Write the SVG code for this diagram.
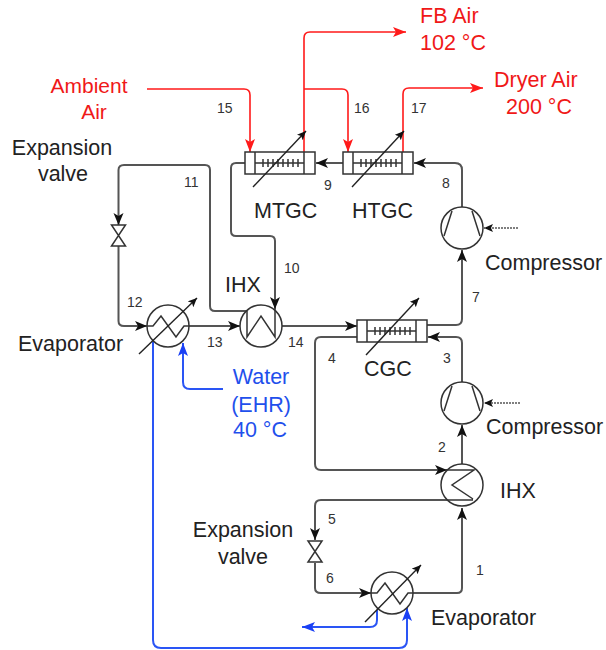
<svg xmlns="http://www.w3.org/2000/svg" width="606" height="650" viewBox="0 0 606 650">
<defs>
<marker id="ak" markerUnits="userSpaceOnUse" markerWidth="14" markerHeight="12" refX="12" refY="5" orient="auto"><path d="M0 0L12 5L0 10L3 5Z" fill="#111"/></marker>
<marker id="ar" markerUnits="userSpaceOnUse" markerWidth="14" markerHeight="12" refX="13" refY="5" orient="auto"><path d="M0 0L13 5L0 10L3 5Z" fill="#ff1a1a"/></marker>
<marker id="ab" markerUnits="userSpaceOnUse" markerWidth="14" markerHeight="12" refX="13" refY="5" orient="auto"><path d="M0 0L13 5L0 10L3 5Z" fill="#1a40f5"/></marker>
<marker id="ad" markerUnits="userSpaceOnUse" markerWidth="10" markerHeight="10" refX="9" refY="4" orient="auto"><path d="M0 0L9 4L0 8L2 4Z" fill="#111"/></marker>
<g id="hx"><rect x="0" y="0" width="70" height="22" class="s"/><path d="M10 0V22M59 0V22M10 11H59M18 7V15M23 7V15M28 7V15M33 7V15M38 7V15M43 7V15M48 7V15M53 7V15" class="s"/></g>
<g id="ev"><circle r="21" class="s"/><path d="M-21 0H-15L-7 -10L8 11L16 0H21" class="s"/></g>
<g id="cp"><circle r="21" class="s"/><path d="M-10 -17L-18 8M10 -17L18 8" class="s"/></g>
<g id="vv"><path d="M-7 0H7L-7 21H7Z" class="s"/></g>
</defs>
<style>
.s{fill:none;stroke:#333;stroke-width:1.5}
.k{fill:none;stroke:#555;stroke-width:2}
.r{fill:none;stroke:#ff1a1a;stroke-width:1.6}
.b{fill:none;stroke:#2a55f5;stroke-width:2}
.d{fill:none;stroke:#222;stroke-width:1.4}
.q{fill:none;stroke:#555;stroke-width:1.4;stroke-dasharray:2 1}
text{font-family:"Liberation Sans",Arial,sans-serif;fill:#222;font-size:21.5px}
.n{font-size:14px;fill:#333}
.tr{fill:#f01818}
.tb{fill:#1f50ec}
</style>
<g id="connectors">
<path class="k" d="M462 207V170Q462 163 455 163H414" marker-end="url(#ak)"/>
<path class="k" d="M343 163H316" marker-end="url(#ak)"/>
<path class="k" d="M245 163H236Q231 163 231 168V231Q231 236 236 236H270Q275 236 275 241V309" marker-end="url(#ak)"/>
<path class="k" d="M282 326H357" marker-end="url(#ak)"/>
<path class="k" d="M427 325H456Q462 325 462 319V250" marker-end="url(#ak)"/>
<path class="k" d="M462 382V343Q462 337 456 337H428" marker-end="url(#ak)"/>
<path class="k" d="M357 337H321Q315 337 315 343V464Q315 470 321 470H447" marker-end="url(#ak)"/>
<path class="k" d="M462 464V425" marker-end="url(#ak)"/>
<path class="k" d="M447 500H321Q315 500 315 506V540" marker-end="url(#ak)"/>
<path class="k" d="M315 563V588Q315 593 321 593H371" marker-end="url(#ak)"/>
<path class="k" d="M413 593H457Q462 593 462 588V508" marker-end="url(#ak)"/>
<path class="k" d="M247 311H215Q210 311 210 306V170Q210 165 205 165H124Q118.500 165 118.500 170V225" marker-end="url(#ak)"/>
<path class="k" d="M118.500 246V321Q118.500 326 124 326H147" marker-end="url(#ak)"/>
<path class="k" d="M189 326H240" marker-end="url(#ak)"/>
<path class="r" d="M147 89H244Q250 89 250 95V152" marker-end="url(#ar)"/>
<path class="r" d="M304 152V38Q304 32 310 32H406" marker-end="url(#ar)"/>
<path class="r" d="M304 89H342Q348 89 348 95V152" marker-end="url(#ar)"/>
<path class="r" d="M403 152V94Q403 88 409 88H483" marker-end="url(#ar)"/>
<path class="b" d="M153 342V640Q153 648 161 648H399Q407 648 407 640V608" marker-end="url(#ab)"/>
<path class="b" d="M377 610V620Q377 627 370 627H302" marker-end="url(#ab)"/>
<path class="b" d="M223 389H190Q183 389 183 382V343" marker-end="url(#ab)"/>
<path class="q" d="M518 228H484" marker-end="url(#ad)"/>
<path class="q" d="M520 403H484" marker-end="url(#ad)"/>
</g>
<g id="mtgc"><use href="#hx" x="245" y="152"/><path class="d" d="M253 187L306 131" marker-end="url(#ad)"/></g>
<g id="htgc"><use href="#hx" x="343" y="152"/><path class="d" d="M352 187L404 131" marker-end="url(#ad)"/></g>
<g id="cgc"><use href="#hx" x="357" y="320"/><path class="d" d="M366 355L419 298" marker-end="url(#ad)"/></g>
<g id="evap1"><use href="#ev" x="168" y="326"/><path class="d" d="M139 354L197 298" marker-end="url(#ad)"/></g>
<g id="evap2"><use href="#ev" x="392" y="593"/><path class="d" d="M365 622L421 565" marker-end="url(#ad)"/></g>
<g id="ihx1"><circle cx="261" cy="326" r="21" class="s"/><path d="M247 311V337L261 316L275 337V309" class="s"/></g>
<g id="ihx2"><circle cx="462" cy="485" r="21" class="s"/><path d="M445 470H474L452 485L473 499M447 500H473" class="s"/></g>
<g id="comp1"><use href="#cp" x="462" y="228"/></g>
<g id="comp2"><use href="#cp" x="462" y="403"/></g>
<g id="valve1"><use href="#vv" x="118.500" y="225"/></g>
<g id="valve2"><use href="#vv" x="315" y="541"/></g>
<g id="labels">
<text class="tr" x="89" y="93" text-anchor="middle" style="font-size:21px">Ambient</text><text class="tr" x="94" y="119" text-anchor="middle" style="font-size:21px">Air</text>
<text class="tr" x="420" y="23">FB Air</text><text class="tr" x="420" y="50">102 °C</text>
<text class="tr" x="494" y="87">Dryer Air</text><text class="tr" x="506" y="114">200 °C</text>
<text class="tb" x="261" y="384" text-anchor="middle">Water</text><text class="tb" x="261" y="412" text-anchor="middle">(EHR)</text><text class="tb" x="260" y="437" text-anchor="middle">40 °C</text>
<text x="62" y="155" text-anchor="middle">Expansion</text><text x="63" y="181" text-anchor="middle">valve</text>
<text x="243" y="537" text-anchor="middle">Expansion</text><text x="243" y="564" text-anchor="middle">valve</text>
<text x="254" y="218">MTGC</text><text x="352" y="218">HTGC</text><text x="225" y="292">IHX</text><text x="364" y="376">CGC</text><text x="500" y="498">IHX</text>
<text x="18" y="351">Evaporator</text><text x="431" y="625">Evaporator</text><text x="485" y="270">Compressor</text><text x="486" y="434">Compressor</text>
<text class="n" x="217" y="113">15</text><text class="n" x="354" y="113">16</text><text class="n" x="411" y="113">17</text><text class="n" x="324" y="190">9</text><text class="n" x="442" y="188">8</text><text class="n" x="184" y="187">11</text><text class="n" x="284" y="273">10</text><text class="n" x="472" y="302">7</text><text class="n" x="127" y="307">12</text><text class="n" x="207" y="347">13</text><text class="n" x="288" y="347">14</text><text class="n" x="328" y="363">4</text><text class="n" x="443" y="363">3</text><text class="n" x="438" y="452">2</text><text class="n" x="328" y="524">5</text><text class="n" x="326" y="583">6</text><text class="n" x="476" y="575">1</text>
</g>
</svg>
